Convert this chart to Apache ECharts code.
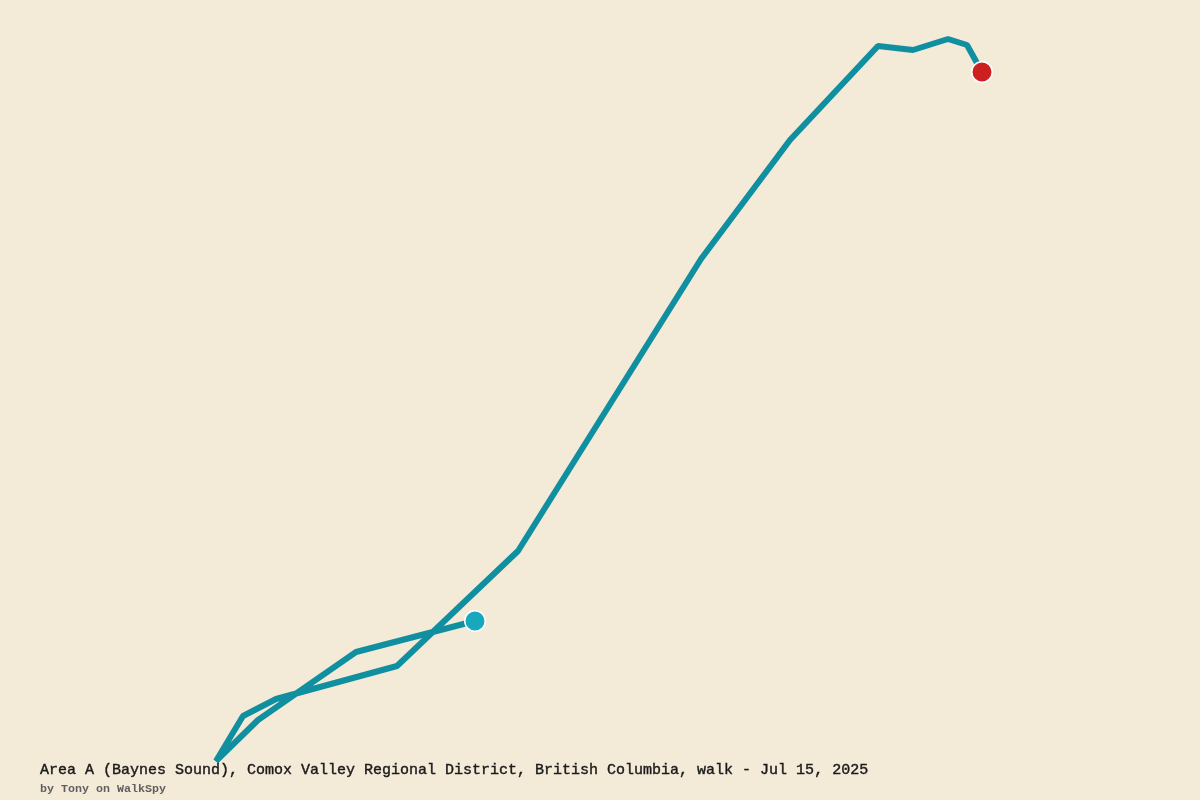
<!DOCTYPE html>
<html><head><meta charset="utf-8">
<style>html,body{margin:0;padding:0;background:#f3ead8}#c{width:1200px;height:800px}</style>
<script src="https://cdn.jsdelivr.net/npm/echarts@6/dist/echarts.min.js"></script>
</head><body><div id="c"></div>
<script>
const lons = [-124.7525,-124.7644,-124.7742,-124.7784,-124.7757,-124.7724,-124.7603,-124.7482,-124.7299,-124.7210,-124.7122,-124.7087,-124.7052,-124.7033,-124.7018];
const lats = [49.5379,49.5348,49.5280,49.5239,49.5284,49.5301,49.5334,49.5449,49.5741,49.5860,49.5954,49.5950,49.5961,49.5955,49.5928];
const titleText = 'Area A (Baynes Sound), Comox Valley Regional District, British Columbia, walk - Jul 15, 2025';
const subtitleText = 'by Tony on WalkSpy';
const route = lons.map((v,i)=>[v,lats[i]]);
const chart = echarts.init(document.getElementById('c'),null,{renderer:'canvas'});
chart.setOption({
  animation:false,
  backgroundColor:'#f3ead8',
  grid:{left:0,right:0,top:0,bottom:0},
  xAxis:{type:'value',min:-124.8,max:-124.68,show:false},
  yAxis:{type:'value',min:49.52,max:49.6,show:false},
  title:[
    {text:titleText,left:35,top:757,textStyle:{fontFamily:'"Liberation Mono",monospace',fontSize:15,fontWeight:'normal',color:'#1a1a1a',lineHeight:16,textBorderColor:'#1a1a1a',textBorderWidth:0.4}},
    {text:subtitleText,left:35,top:778,textStyle:{fontFamily:'"Liberation Mono",monospace',fontSize:11.67,fontWeight:'bold',color:'#5f5f5f',lineHeight:13}}
  ],
  series:[
    {type:'line',data:route,symbol:'none',silent:true,clip:false,z:2,
      lineStyle:{color:'#0f8f9f',width:6,join:'bevel',cap:'butt'}},
    {type:'scatter',data:[route[0]],symbol:'circle',symbolSize:20.5,z:3,clip:false,
      itemStyle:{color:'#17a8bd',borderColor:'#ffffff',borderWidth:1.5,opacity:1}},
    {type:'scatter',data:[route[route.length-1]],symbol:'circle',symbolSize:20.5,z:3,clip:false,
      itemStyle:{color:'#cc2020',borderColor:'#ffffff',borderWidth:1.5,opacity:1}}
  ]
});
</script></body></html>
